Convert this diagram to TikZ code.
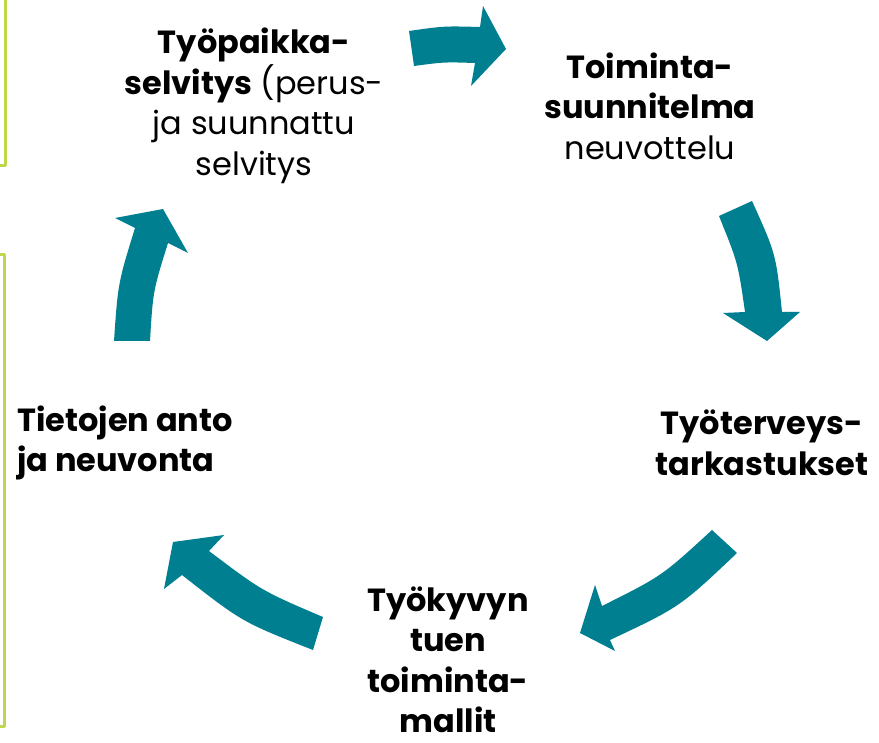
\documentclass[tikz,border=0pt]{standalone}
\usepackage{fontspec}
\setmainfont{Poppins}
\usepackage{tikz}
\definecolor{tealarrow}{HTML}{007F91}
\definecolor{limeline}{HTML}{BDD84A}
\tikzset{
  phase/.style={font=\fontsize{32}{40.5}\selectfont, align=center, inner sep=0pt},
  cyclearrow/.style={fill=tealarrow, draw=none},
  sideline/.style={draw=limeline, line width=3pt}
}

\begin{document}
\begin{tikzpicture}[line cap=round,line join=round,x=1pt,y=-1pt]
\useasboundingbox (0,0) rectangle (879,743);
\draw[sideline,line cap=butt] (-2,166) -- (5,166) -- (5,-2);
\draw[sideline,line cap=butt] (-2,255) -- (4,255) -- (4,726) -- (-2,726);
\node[phase] (selvitys) at (254,106) {\textbf{Työpaikka-}\\\textbf{selvitys} (perus-\\ja suunnattu\\selvitys};
\node[phase] (suunnitelma) at (650,106) {\textbf{Toiminta-}\\\textbf{suunnitelma}\\neuvottelu};
\node[phase] (tarkastukset) at (762,443) {\textbf{Työterveys-}\\\textbf{tarkastukset}};
\node[phase] (toimintamallit) at (448,660) {\textbf{Työkyvyn}\\\textbf{tuen}\\\textbf{toiminta-}\\\textbf{mallit}};
\node[phase,align=left,anchor=west] (neuvonta) at (17,443) {\textbf{Tietojen anto}\\\textbf{ja neuvonta}};
\fill[cyclearrow] (409,31) .. controls (444,26) .. (480,27) -- (483,6) -- (506,49) -- (471,86) -- (475,63) .. controls (444,62) .. (414,66) -- cycle;
\fill[cyclearrow] (719,216) -- (752,201) .. controls (776,254) .. (782,312) -- (800,312) -- (767,341) -- (723,313) -- (745,312) .. controls (738,263) .. (719,216) -- cycle;
\fill[cyclearrow] (712,530) -- (737,553) .. controls (680,607) .. (610,640) -- (615,651) -- (580,633) -- (595,585) -- (602,606) .. controls (662,576) .. (712,530) -- cycle;
\fill[cyclearrow] (323,617) -- (313,650) .. controls (242,622) .. (182,575) -- (164,589) -- (173,542) -- (224,535) -- (209,551) .. controls (262,591) .. (323,617) -- cycle;
\fill[cyclearrow] (114,341) -- (150,341) .. controls (153,291) .. (168,243) -- (188,253) -- (163,209) -- (115,218) -- (135,228) .. controls (118,283) .. (114,341) -- cycle;
\end{tikzpicture}
\end{document}
